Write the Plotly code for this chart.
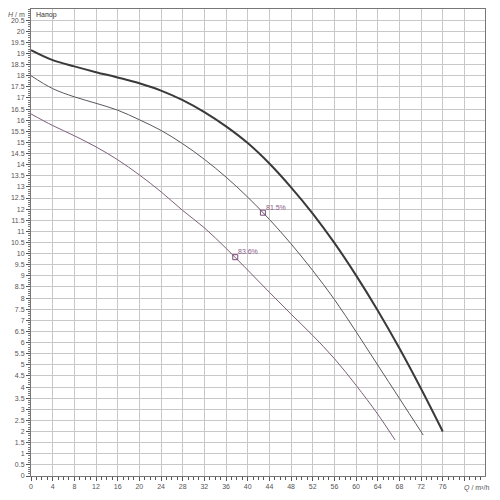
import plotly.graph_objects as go

# Thick curve (max head)
q_top = [0, 4, 8, 12, 16, 20, 24, 28, 32, 36, 40, 44, 48, 52, 56, 60, 64, 68, 72, 76]
h_top = [19.15, 18.70, 18.42, 18.16, 17.92, 17.66, 17.33, 16.90, 16.36, 15.72, 14.97, 14.05, 12.98,
         11.80, 10.48, 9.02, 7.44, 5.74, 3.92, 2.0]

# Middle curve (81.5 %)
q_mid = [0, 4, 8, 12, 16, 20, 24, 28, 32, 36, 40, 44, 48, 52, 56, 60, 64, 68, 72.4]
h_mid = [18.0, 17.42, 17.05, 16.76, 16.45, 16.02, 15.54, 14.94, 14.24, 13.44, 12.54, 11.54, 10.44,
         9.24, 7.94, 6.49, 4.99, 3.49, 1.84]

# Bottom curve (83.6 %)
q_bot = [0, 4, 8, 12, 16, 20, 24, 28, 32, 36, 40, 44, 48, 52, 56, 60, 64, 67.2]
h_bot = [16.28, 15.76, 15.30, 14.80, 14.22, 13.54, 12.78, 11.94, 11.16, 10.24, 9.26, 8.26, 7.28,
         6.32, 5.28, 4.08, 2.78, 1.62]

# Efficiency points
eff_q = [42.8, 37.7]
eff_h = [11.84, 9.84]
eff_labels = ["81.5%", "83.6%"]

x_ticks = list(range(0, 77, 4))
y_ticks = [i * 0.5 for i in range(0, 42)]

fig = go.Figure()
fig.add_trace(go.Scatter(x=q_top, y=h_top, mode="lines", line=dict(color="#3a3a3a", width=2, shape="spline"), hoverinfo="skip"))
fig.add_trace(go.Scatter(x=q_mid, y=h_mid, mode="lines", line=dict(color="#5c5660", width=1, shape="spline"), hoverinfo="skip"))
fig.add_trace(go.Scatter(x=q_bot, y=h_bot, mode="lines", line=dict(color="#7d6079", width=1, shape="spline"), hoverinfo="skip"))
fig.add_trace(go.Scatter(x=eff_q, y=eff_h, mode="markers",
                         marker=dict(symbol="square-open", size=5, color="#7a4a7a", line=dict(width=1)),
                         hoverinfo="skip"))

for q, h, t in zip(eff_q, eff_h, eff_labels):
    fig.add_annotation(x=q, y=h, text=t, showarrow=False, xanchor="left", yanchor="bottom",
                       xshift=1, yshift=0, font=dict(size=7, color="#8a5a8a", family="Liberation Sans"))

fig.add_annotation(xref="paper", x=0, y=20.77, text="<i>H</i> / m", showarrow=False, xanchor="right",
                   xshift=-4, font=dict(size=7, color="#555", family="Liberation Sans"))
fig.add_annotation(xref="paper", x=0, y=20.75, text="Напор", showarrow=False, xanchor="left",
                   xshift=3, font=dict(size=7, color="#333", family="Liberation Sans"))
fig.add_annotation(x=80, yref="paper", y=0, text="<i>Q</i> / m³/h", showarrow=False, xanchor="left",
                   yanchor="top", xshift=-2, yshift=-6, font=dict(size=7, color="#555", family="Liberation Sans"))

fig.update_layout(
    width=492, height=492,
    margin=dict(l=23, r=15, t=1, b=24),
    paper_bgcolor="white", plot_bgcolor="white",
    showlegend=False,
    font=dict(family="Liberation Sans", size=7, color="#555"),
    xaxis=dict(range=[0, 83.8], tickvals=x_ticks + [80], ticktext=[str(v) for v in x_ticks] + [""],
               automargin=False,
               showgrid=True, gridcolor="#c8c8c8", gridwidth=1,
               ticks="outside", ticklen=4, tickcolor="#555",
               minor=dict(dtick=1, ticks="outside", ticklen=3, tickcolor="#555", showgrid=False),
               showline=True, linecolor="#777", linewidth=1, mirror=True, zeroline=False,
               tickfont=dict(size=7, color="#555")),
    yaxis=dict(range=[0, 21], tickvals=y_ticks, ticktext=[("%g" % v) for v in y_ticks],
               automargin=False,
               showgrid=True, gridcolor="#c8c8c8", gridwidth=1,
               ticks="outside", ticklen=4, tickcolor="#555",
               minor=dict(dtick=0.1, ticks="outside", ticklen=2, tickcolor="#777", showgrid=False),
               showline=True, linecolor="#777", linewidth=1, mirror=True, zeroline=False,
               tickfont=dict(size=7, color="#555")),
)

fig.write_html("out.html")
